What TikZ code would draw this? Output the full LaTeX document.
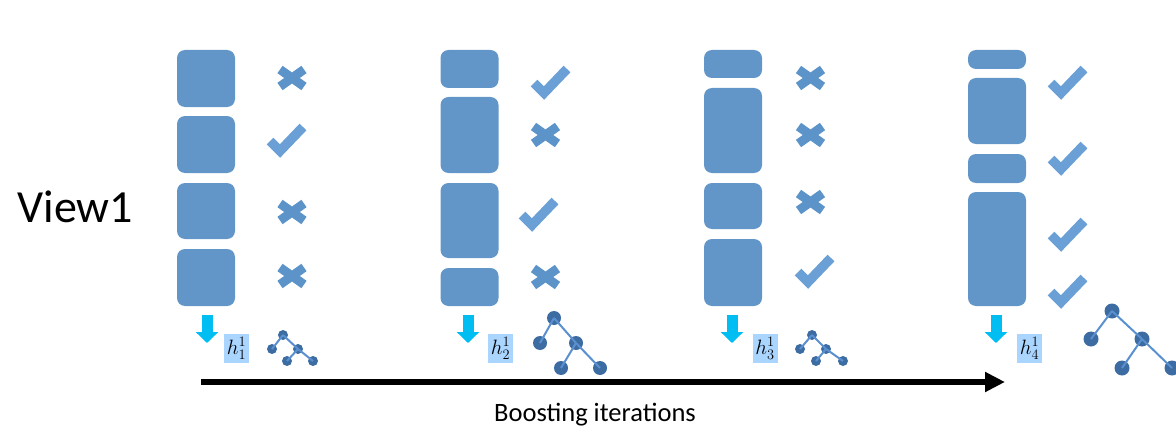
\documentclass[tikz,border=0pt]{standalone}
\usepackage{fontspec}
\setmainfont{Carlito}
\usetikzlibrary{arrows.meta}
\definecolor{blkblue}{HTML}{6296C8}
\definecolor{tickblue}{HTML}{6AA0D6}
\definecolor{crossblue}{HTML}{5C93C9}
\definecolor{hblue}{HTML}{A9D5FF}
\definecolor{arrowcyan}{HTML}{00BEF2}
\definecolor{treeblue}{HTML}{3D6CA3}
\definecolor{edgeblue}{HTML}{5A90D0}

\begin{document}
\begin{tikzpicture}[x=1pt, y=-1pt,
  blk/.style={fill=blkblue, rounded corners=8pt, minimum width=58pt, inner sep=0pt},
  hbox/.style={fill=hblue, minimum width=25pt, minimum height=29pt, inner sep=0pt, font=\fontsize{22}{22}\selectfont},
  leaf/.style={circle, fill=treeblue, inner sep=0pt, minimum size=10pt},
  bigleaf/.style={leaf, minimum size=14pt},
  branch/.style={draw=edgeblue, line width=2pt},
  down/.style={draw=arrowcyan, line width=11pt, -{Triangle[length=11pt, width=22pt]}},
  tickmark/.pic={\draw[tickblue, line width=9.5pt, line join=miter] (-17,2) -- (-7,12) -- (16,-12);},
  crossmark/.pic={\draw[crossblue, line width=9pt] (-12,-8.5) -- (12,8.5) (-12,8.5) -- (12,-8.5);}]
  \useasboundingbox (0,0) rectangle (1176,428);

  \node[font=\fontsize{46}{50}\selectfont, anchor=base west] at (14,222)(view){View1};

  % iteration 1
  \node[blk, minimum height=57pt] at (206,78.5)(b11){};
  \node[blk, minimum height=57pt] at (206,144.5)(b12){};
  \node[blk, minimum height=56pt] at (206,211)(b13){};
  \node[blk, minimum height=57pt] at (206,277.5)(b14){};
  \pic at (292,78) {crossmark};
  \pic at (287,139) {tickmark};
  \pic at (292,212) {crossmark};
  \pic at (292,276) {crossmark};
  \coordinate (a1s) at (207,315);
  \coordinate (a1e) at (207,343);
  \draw[down] (a1s)--(a1e);
  \node[hbox] at (236.5,348.5)(h1){$h^{1}_{1}$};
  \node[leaf] at (283,335)(t1r){};
  \node[leaf] at (272,349)(t1a){};
  \node[leaf] at (298,349)(t1b){};
  \node[leaf] at (287,361)(t1c){};
  \node[leaf] at (313,361)(t1d){};
  \draw[branch] (t1r.center)--(t1a.center);
  \draw[branch] (t1r.center)--(t1b.center);
  \draw[branch] (t1b.center)--(t1c.center);
  \draw[branch] (t1b.center)--(t1d.center);

  % iteration 2
  \node[blk, minimum height=38pt] at (469.5,69)(b21){};
  \node[blk, minimum height=76pt] at (469.5,135)(b22){};
  \node[blk, minimum height=75pt] at (469.5,220.5)(b23){};
  \node[blk, minimum height=38pt] at (469.5,287)(b24){};
  \pic at (551,81) {tickmark};
  \pic at (545.5,135) {crossmark};
  \pic at (539,213) {tickmark};
  \pic at (545.5,277) {crossmark};
  \coordinate (a2s) at (468,315);
  \coordinate (a2e) at (468,343);
  \draw[down] (a2s)--(a2e);
  \node[hbox] at (500.5,348.5)(h2){$h^{1}_{2}$};
  \node[bigleaf] at (554,318)(t2r){};
  \node[bigleaf] at (540,343)(t2a){};
  \node[bigleaf] at (576,343)(t2b){};
  \node[bigleaf] at (561,368)(t2c){};
  \node[bigleaf] at (600,368)(t2d){};
  \draw[branch] (t2r.center)--(t2a.center);
  \draw[branch] (t2r.center)--(t2b.center);
  \draw[branch] (t2b.center)--(t2c.center);
  \draw[branch] (t2b.center)--(t2d.center);

  % iteration 3
  \node[blk, minimum height=28pt] at (733,64)(b31){};
  \node[blk, minimum height=85pt] at (733,130.5)(b32){};
  \node[blk, minimum height=46pt] at (733,206)(b33){};
  \node[blk, minimum height=67pt] at (733,272.5)(b34){};
  \pic at (810.5,78) {crossmark};
  \pic at (810.5,135) {crossmark};
  \pic at (810.5,202) {crossmark};
  \pic at (815,270) {tickmark};
  \coordinate (a3s) at (732,315);
  \coordinate (a3e) at (732,343);
  \draw[down] (a3s)--(a3e);
  \node[hbox] at (765,348.5)(h3){$h^{1}_{3}$};
  \node[leaf] at (812,335)(t3r){};
  \node[leaf] at (800,349)(t3a){};
  \node[leaf] at (826,349)(t3b){};
  \node[leaf] at (816,361)(t3c){};
  \node[leaf] at (843,361)(t3d){};
  \draw[branch] (t3r.center)--(t3a.center);
  \draw[branch] (t3r.center)--(t3b.center);
  \draw[branch] (t3b.center)--(t3c.center);
  \draw[branch] (t3b.center)--(t3d.center);

  % iteration 4
  \node[blk, minimum height=19pt] at (997,59.5)(b41){};
  \node[blk, minimum height=66pt] at (997,111)(b42){};
  \node[blk, minimum height=29pt] at (997,168.5)(b43){};
  \node[blk, minimum height=114pt] at (997,249)(b44){};
  \pic at (1068,81) {tickmark};
  \pic at (1068,157) {tickmark};
  \pic at (1068,233) {tickmark};
  \pic at (1068,290) {tickmark};
  \coordinate (a4s) at (996,315);
  \coordinate (a4e) at (996,343);
  \draw[down] (a4s)--(a4e);
  \node[hbox] at (1029.5,348.5)(h4){$h^{1}_{4}$};
  \node[bigleaf, minimum size=15pt] at (1112,311)(t4r){};
  \node[bigleaf, minimum size=15pt] at (1091,339)(t4a){};
  \node[bigleaf, minimum size=15pt] at (1142,339)(t4b){};
  \node[bigleaf, minimum size=15pt] at (1122,368)(t4c){};
  \node[bigleaf, minimum size=15pt] at (1172,368)(t4d){};
  \draw[branch] (t4r.center)--(t4a.center);
  \draw[branch] (t4r.center)--(t4b.center);
  \draw[branch] (t4b.center)--(t4c.center);
  \draw[branch] (t4b.center)--(t4d.center);

  \coordinate (start) at (201,382);
  \coordinate (stop) at (1005,382);
  \draw[line width=6.5pt, -{Triangle[length=20pt, width=19pt]}] (start)--(stop);
  \node[font=\fontsize{26.5}{30}\selectfont, anchor=base] at (595,421.5)(boost){Boosting iterations};

\end{tikzpicture}
\end{document}
